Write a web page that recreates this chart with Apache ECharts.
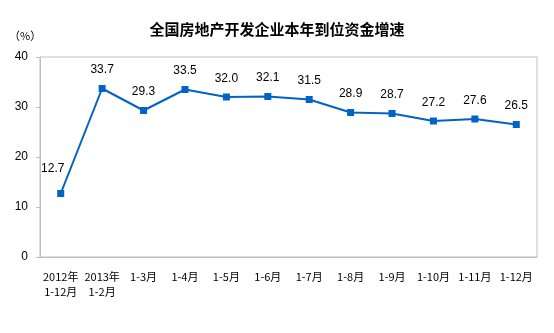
<!DOCTYPE html>
<html>
<head>
<meta charset="utf-8">
<script src="https://cdn.jsdelivr.net/npm/echarts@6/dist/echarts.min.js"></script>
<style>
  html, body { margin: 0; padding: 0; background: #fff; }
  #chart { width: 554px; height: 333px; }
</style>
</head>
<body>
<div id="chart"></div>
<script>
// Period labels (cumulative months)
const categories = [
  '2012年\n1-12月', '2013年\n1-2月', '1-3月', '1-4月', '1-5月', '1-6月',
  '1-7月', '1-8月', '1-9月', '1-10月', '1-11月', '1-12月'
];
// Year-on-year growth of funds in place (%)
const growth = [12.7, 33.7, 29.3, 33.5, 32.0, 32.1, 31.5, 28.9, 28.7, 27.2, 27.6, 26.5];
// Value axis ticks
const yTicks = [0, 10, 20, 30, 40];

const lineColor = '#0063C6';
const axisGrey = '#BFBFBF';
const numFont = '"Liberation Sans", Arial, sans-serif';
const cjkFont = '"Noto Sans CJK SC", "Noto Sans", sans-serif';

const chart = echarts.init(document.getElementById('chart'), null, { renderer: 'canvas' });

chart.setOption({
  animation: false,
  backgroundColor: '#ffffff',
  title: {
    text: '全国房地产开发企业本年到位资金增速',
    left: 'center',
    top: 17,
    textStyle: { fontFamily: cjkFont, fontSize: 15, fontWeight: 'bold', color: '#000' }
  },
  graphic: [{
    type: 'text',
    left: 9,
    top: 30,
    style: { text: '（%）', font: '11px ' + cjkFont, fill: '#000' }
  }],
  grid: {
    left: 40, right: 17, top: 57, bottom: 76,
    show: true, borderColor: axisGrey, borderWidth: 1, backgroundColor: 'transparent'
  },
  xAxis: {
    type: 'category',
    data: categories,
    boundaryGap: true,
    axisLine: { lineStyle: { color: axisGrey, width: 1 } },
    axisTick: { inside: true, length: 4, lineStyle: { color: axisGrey } },
    axisLabel: {
      interval: 0, margin: 12, color: '#000',
      fontFamily: cjkFont, fontSize: 11, lineHeight: 15
    },
    splitLine: { show: false }
  },
  yAxis: {
    type: 'value',
    min: yTicks[0],
    max: yTicks[yTicks.length - 1],
    interval: yTicks[1] - yTicks[0],
    axisLine: { show: true, lineStyle: { color: axisGrey, width: 1 } },
    axisTick: { show: true, length: 4, lineStyle: { color: axisGrey } },
    axisLabel: { margin: 12, color: '#000', fontFamily: numFont, fontSize: 12 },
    splitLine: { show: false }
  },
  series: [{
    type: 'line',
    data: growth.map((v, i) => i === 0
      ? { value: v, label: { offset: [-8, -6] } }
      : v),
    symbol: 'rect',
    symbolSize: 7,
    lineStyle: { color: lineColor, width: 2 },
    itemStyle: { color: lineColor },
    label: {
      show: true,
      position: 'top',
      distance: 9,
      color: '#000',
      fontFamily: numFont,
      fontSize: 12,
      formatter: p => p.value.toFixed(1)
    }
  }]
});
</script>
</body>
</html>
